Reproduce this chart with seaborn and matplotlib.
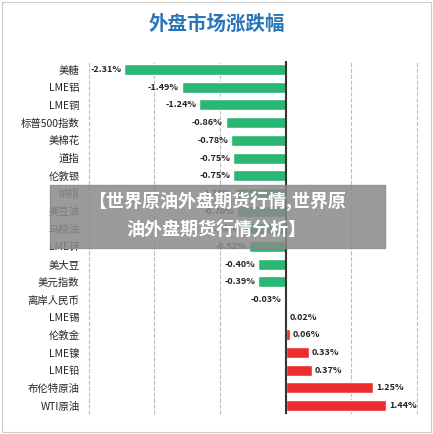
import matplotlib
matplotlib.use("Agg")
import matplotlib.pyplot as plt
import seaborn as sns
import pandas as pd
import numpy as np

categories = ["美糖","LME铝","LME铜","标普500指数","美棉花","道指","伦敦银","纳指","美豆油","马棕油",
              "LME锌","美大豆","美元指数","离岸人民币","LME锡","伦敦金","LME镍","LME铅","布伦特原油","WTI原油"]
values = [-2.31,-1.49,-1.24,-0.86,-0.78,-0.75,-0.75,-0.73,-0.70,-0.65,
          -0.52,-0.40,-0.39,-0.03,0.02,0.06,0.33,0.37,1.25,1.44]

sns.set_theme(style="white")
plt.rcParams['font.family'] = ['Noto Sans CJK SC', 'DejaVu Sans']

df = pd.DataFrame({"cat": categories, "val": values})
colors = ["#2bb673" if v < 0 else "#ec2d2d" for v in values]

fig = plt.figure(figsize=(4.33, 4.34), dpi=100)
ax = fig.add_axes([0.19, 0.045, 0.775, 0.815])
sns.barplot(data=df, x="val", y="cat", hue="cat", palette=colors, legend=False, ax=ax, width=0.62, saturation=1)
ax.set_xlim(-2.91, 1.89)
ax.set_ylim(len(categories)-0.5, -0.5)
step = 0.94
ax.set_xticks([k*step for k in range(-3, 3)])
ax.set_xticklabels([])
ax.tick_params(axis='x', length=0)
ax.grid(axis='x', linestyle='--', color='#bbbbbb', linewidth=0.8)
ax.axvline(0, color='#333333', linewidth=1.5)
ax.set_xlabel(""); ax.set_ylabel("")
ax.tick_params(axis='y', length=0, labelsize=7.5, pad=2)
for s in ax.spines.values():
    s.set_visible(False)
for i, v in enumerate(values):
    txt = f"{v:.2f}%"
    if v < 0:
        ax.text(v - 0.04, i, txt, ha='right', va='center', fontsize=6.5, color='#222222', fontweight='bold')
    else:
        ax.text(v + 0.04, i, txt, ha='left', va='center', fontsize=6.5, color='#222222', fontweight='bold')
fig.patches.append(plt.Rectangle((0.005, 0.005), 0.99, 0.99, transform=fig.transFigure,
                                 fill=False, edgecolor='#cccccc', linewidth=0.8))
fig.text(0.5, 0.945, "外盘市场涨跌幅", ha='center', va='center', fontsize=14, color='#2a74b8', fontweight='bold')
fig.patches.append(plt.Rectangle((0.115, 0.428), 0.775, 0.145, transform=fig.transFigure,
                                 color='#8a8a8a', alpha=0.85, zorder=10))
fig.text(0.5, 0.537, "【世界原油外盘期货行情,世界原", ha='center', va='center', fontsize=13,
         color='white', fontweight='bold', zorder=11)
fig.text(0.5, 0.472, "油外盘期货行情分析】", ha='center', va='center', fontsize=13,
         color='white', fontweight='bold', zorder=11)
fig.savefig("out.png", dpi=100)
